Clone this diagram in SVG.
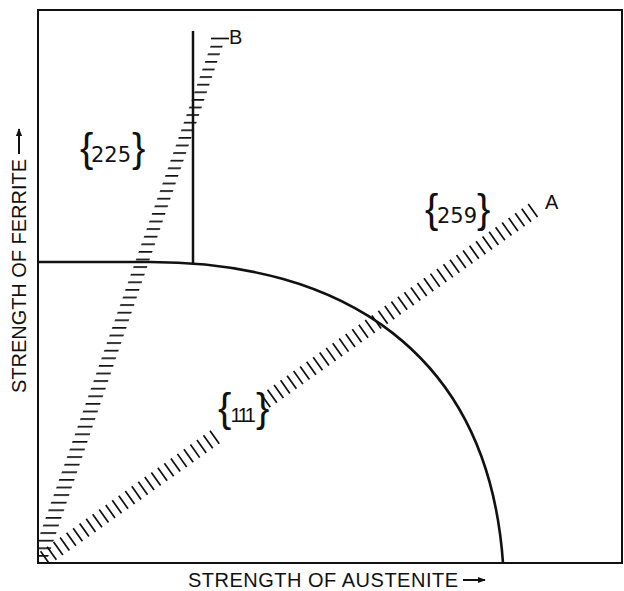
<svg xmlns="http://www.w3.org/2000/svg" width="624" height="591" viewBox="0 0 624 591">
<style>
.ln{fill:none;stroke:#111;stroke-linecap:butt}
.ax{font-family:"Liberation Sans",Arial,sans-serif;font-size:20px;fill:#111}
.lt{font-family:"Liberation Sans",Arial,sans-serif;font-size:20px;fill:#111}
.br{font-family:"Liberation Sans",Arial,sans-serif;font-size:40px;fill:#111}
.dg{font-family:"DejaVu Sans",sans-serif;font-size:21px;fill:#111}
</style>
<defs>
<clipPath id="inside"><rect x="38" y="10" width="584" height="553"/></clipPath>
<pattern id="hatchH" patternUnits="userSpaceOnUse" x="0" y="0.2" width="30" height="7.6">
<rect x="0" y="0" width="30" height="1.7" fill="#111"/>
</pattern>
<marker id="arr" viewBox="0 0 10 10" refX="9" refY="5" markerWidth="8" markerHeight="8" markerUnits="userSpaceOnUse" orient="auto">
<path d="M0,1 L10,5 L0,9 Z" fill="#111"/>
</marker>
</defs>
<rect width="624" height="591" fill="#fff"/>
<g id="frame">
<rect x="38" y="10" width="584" height="553" class="ln" stroke-width="2"/>
</g>
<g id="connectors" clip-path="url(#inside)">
<path id="bandB" d="M30,563 L46,563 L224,42 L212,42 Z" fill="url(#hatchH)"/>
<line x1="211" y1="38.5" x2="229" y2="38.5" class="ln" stroke-width="1.7"/>
<line id="bandA1" x1="38" y1="563" x2="216" y2="436.2" class="ln" stroke-width="16" stroke-dasharray="1.7 6.3"/>
<line id="bandA2" x1="265" y1="401.3" x2="535" y2="209" class="ln" stroke-width="16" stroke-dasharray="1.7 6.3"/>
<line id="vline" x1="193" y1="31" x2="193" y2="263" class="ln" stroke-width="2.5"/>
<path id="curve" d="M38,262 L150,262 C340,262 488,350 503,563" class="ln" stroke-width="2.6"/>
</g>
<g id="label-B"><text x="229" y="44" class="lt">B</text></g>
<g id="label-A"><text x="545" y="209" class="lt">A</text></g>
<g id="label-225"><text y="162"><tspan x="80" class="br">{</tspan><tspan x="91" class="dg">225</tspan><tspan x="132" class="br">}</tspan></text></g>
<g id="label-259"><text y="223"><tspan x="425" class="br">{</tspan><tspan x="437" class="dg">259</tspan><tspan x="477" class="br">}</tspan></text></g>
<g id="label-111"><text y="422"><tspan x="218" class="br" font-size="36">{</tspan><tspan x="230.5" font-family="Liberation Sans, Arial, sans-serif" font-size="20" fill="#111" letter-spacing="-2.5">111</tspan><tspan x="256" class="br" font-size="36">}</tspan></text></g>
<g id="axis-x">
<text x="188" y="587" class="ax" textLength="270" lengthAdjust="spacing">STRENGTH OF AUSTENITE</text>
<line x1="463" y1="580" x2="485" y2="580" class="ln" stroke-width="2" marker-end="url(#arr)"/>
</g>
<g id="axis-y">
<text transform="translate(26,393) rotate(-90)" class="ax" textLength="234" lengthAdjust="spacing">STRENGTH OF FERRITE</text>
<line x1="19" y1="154" x2="19" y2="129" class="ln" stroke-width="2" marker-end="url(#arr)"/>
</g>
</svg>
